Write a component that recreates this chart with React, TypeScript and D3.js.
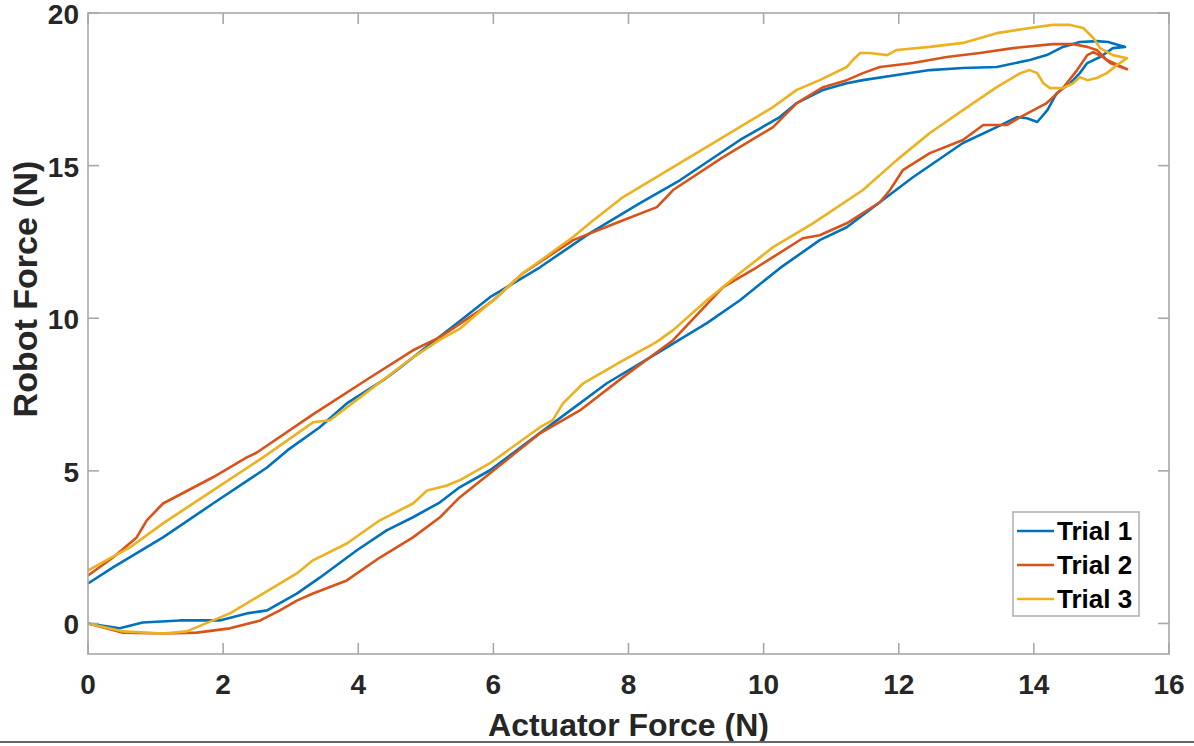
import * as d3 from "d3";

// Robot force vs actuator force, three hysteresis trials
// each trial: rising (lower) branch, then returning (upper) branch
const trial1: [number, number][] = [
  [0, 0], [0.47, -0.16], [0.81, 0.03], [1.36, 0.1], [1.95, 0.1], [2.35, 0.33], [2.65, 0.43],
  [3.09, 0.98], [3.43, 1.5], [3.98, 2.4], [4.42, 3.05], [4.81, 3.48], [5.21, 3.97], [5.5, 4.46],
  [5.95, 5.02], [6.84, 6.49], [7.68, 7.87], [8.42, 8.85], [9.16, 9.84], [9.65, 10.59], [10.24, 11.64],
  [10.83, 12.56], [11.23, 12.98], [12.21, 14.62], [12.95, 15.74], [13.45, 16.26], [13.75, 16.59],
  [13.9, 16.55], [14.05, 16.43], [14.2, 16.82], [14.34, 17.38], [14.54, 17.7], [14.68, 18.03],
  [14.79, 18.36], [14.98, 18.56], [15.17, 18.85], [15.35, 18.89],
  [15.1, 19.05], [14.93, 19.08], [14.68, 19.05], [14.43, 18.89], [14.19, 18.62], [13.94, 18.46],
  [13.45, 18.23], [12.95, 18.2], [12.46, 18.13], [11.97, 17.97], [11.47, 17.8], [11.23, 17.7],
  [10.88, 17.48], [10.49, 17.05], [10.24, 16.59], [9.65, 15.84], [8.76, 14.52], [8.17, 13.77],
  [7.43, 12.79], [6.69, 11.67], [5.95, 10.69], [5.5, 9.9], [5.06, 9.15], [4.57, 8.3], [4.37, 7.97],
  [3.83, 7.21], [3.43, 6.43], [2.95, 5.67], [2.65, 5.11], [1.85, 3.93], [1.11, 2.82], [0.37, 1.84],
  [0, 1.31],
];

const trial2: [number, number][] = [
  [0, 0], [0.52, -0.3], [1.11, -0.33], [1.61, -0.3], [2.1, -0.16], [2.55, 0.1], [2.84, 0.43],
  [3.09, 0.75], [3.33, 0.98], [3.83, 1.41], [4.32, 2.16], [4.81, 2.82], [5.21, 3.48], [5.5, 4.13],
  [5.95, 4.92], [6.69, 6.23], [7.28, 6.98], [7.92, 8.07], [8.66, 9.28], [9.4, 11.02], [9.9, 11.67],
  [10.58, 12.62], [10.83, 12.72], [11.23, 13.11], [11.72, 13.8], [11.87, 14.2], [12.06, 14.85],
  [12.46, 15.41], [12.95, 15.84], [13.25, 16.33], [13.6, 16.33], [13.8, 16.59], [14.19, 17.05],
  [14.43, 17.54], [14.64, 18.13], [14.79, 18.62], [14.88, 18.72], [15.02, 18.56], [15.13, 18.36],
  [15.38, 18.16],
  [15.08, 18.46], [14.93, 18.79], [14.79, 18.89], [14.58, 18.98], [14.28, 18.98], [13.69, 18.85],
  [13.2, 18.69], [12.71, 18.56], [12.21, 18.36], [11.72, 18.23], [11.47, 18.03], [11.23, 17.8],
  [10.88, 17.57], [10.49, 17.05], [10.14, 16.26], [9.4, 15.28], [8.66, 14.2], [8.42, 13.64],
  [7.92, 13.21], [7.18, 12.56], [6.44, 11.48], [6.0, 10.59], [5.8, 10.26], [5.21, 9.38],
  [4.81, 8.95], [4.17, 8.05], [3.33, 6.85], [2.5, 5.6], [2.35, 5.44], [1.85, 4.79], [1.11, 3.93],
  [0.87, 3.38], [0.72, 2.82], [0.37, 2.16], [0, 1.57],
];

const trial3: [number, number][] = [
  [0, 0], [0.52, -0.26], [1.11, -0.33], [1.46, -0.26], [1.85, 0.1], [2.1, 0.33], [2.59, 0.98],
  [3.09, 1.64], [3.33, 2.07], [3.83, 2.62], [4.32, 3.38], [4.81, 3.93], [5.02, 4.36], [5.31, 4.52],
  [5.5, 4.69], [5.95, 5.25], [6.69, 6.43], [6.88, 6.66], [7.03, 7.21], [7.33, 7.87], [7.92, 8.62],
  [8.4, 9.2], [8.66, 9.61], [9.16, 10.59], [9.65, 11.48], [10.14, 12.33], [10.73, 13.11],
  [11.47, 14.2], [11.97, 15.18], [12.46, 16.07], [12.95, 16.82], [13.45, 17.57], [13.8, 18.03],
  [13.94, 18.13], [14.05, 18.03], [14.14, 17.7], [14.24, 17.54], [14.43, 17.54], [14.58, 17.7],
  [14.68, 17.9], [14.79, 17.8], [14.93, 17.87], [15.08, 18.03], [15.23, 18.3], [15.38, 18.52],
  [15.17, 18.62], [14.98, 18.85], [14.88, 19.18], [14.73, 19.51], [14.54, 19.61], [14.28, 19.61],
  [13.94, 19.51], [13.45, 19.34], [12.95, 19.02], [12.46, 18.89], [11.97, 18.79], [11.83, 18.62],
  [11.57, 18.69], [11.43, 18.69], [11.32, 18.46], [11.23, 18.23], [10.83, 17.8], [10.49, 17.48],
  [10.14, 16.92], [9.4, 15.93], [8.66, 14.95], [7.92, 13.97], [7.48, 13.21], [7.18, 12.66],
  [6.44, 11.48], [6.05, 10.69], [5.7, 10.03], [5.5, 9.65], [5.21, 9.3], [4.81, 8.72], [4.32, 7.9],
  [3.58, 6.66], [3.33, 6.59], [2.74, 5.67], [2.59, 5.44], [1.85, 4.36], [1.11, 3.28], [0.62, 2.49],
  [0, 1.74],
];

const seriesNames = ["Trial 1", "Trial 2", "Trial 3"];
const seriesColors = ["#0072BD", "#D95319", "#EDB120"];
const xTicks = [0, 2, 4, 6, 8, 10, 12, 14, 16];
const yTicks = [0, 5, 10, 15, 20];

const W = 1194;
const H = 746;
const left = 88;
const right = 1169;
const top = 13;
const bottom = 654;
const axisColor = "#a8a8a8";
const textColor = "#262626";
const font = "'Liberation Sans', Arial, Helvetica, sans-serif";

export default function App() {
  const x = d3.scaleLinear().domain([0, 16]).range([left, right]);
  const y = d3.scaleLinear().domain([-1, 20]).range([bottom, top]);
  const line = d3
    .line<[number, number]>()
    .x((d) => x(d[0]))
    .y((d) => y(d[1]));
  const trials = [trial1, trial2, trial3];

  return (
    <svg
      width={W}
      height={H}
      style={{ position: "fixed", left: 0, top: 0, background: "#fff" }}
      fontFamily={font}
    >
      <rect x={0} y={0} width={W} height={H} fill="#fff" />
      {/* curves */}
      <g fill="none" strokeWidth={2.6} strokeLinejoin="round">
        {trials.map((t, i) => (
          <path key={i} d={line(t) ?? ""} stroke={seriesColors[i]} />
        ))}
      </g>
      {/* box + ticks */}
      <rect
        x={left}
        y={top}
        width={right - left}
        height={bottom - top}
        fill="none"
        stroke={axisColor}
        strokeWidth={1.6}
      />
      {xTicks.map((t) => (
        <g key={"x" + t}>
          <line x1={x(t)} x2={x(t)} y1={bottom} y2={bottom - 11} stroke={axisColor} strokeWidth={1.6} />
          <line x1={x(t)} x2={x(t)} y1={top} y2={top + 11} stroke={axisColor} strokeWidth={1.6} />
          <text
            x={x(t)}
            y={694}
            textAnchor="middle"
            fontSize={28}
            fontWeight="bold"
            fill={textColor}
          >
            {t}
          </text>
        </g>
      ))}
      {yTicks.map((t) => (
        <g key={"y" + t}>
          <line x1={left} x2={left + 11} y1={y(t)} y2={y(t)} stroke={axisColor} strokeWidth={1.6} />
          <line x1={right} x2={right - 11} y1={y(t)} y2={y(t)} stroke={axisColor} strokeWidth={1.6} />
          <text
            x={79}
            y={y(t) + 11}
            textAnchor="end"
            fontSize={28}
            fontWeight="bold"
            fill={textColor}
          >
            {t}
          </text>
        </g>
      ))}
      {/* axis labels */}
      <text
        x={(left + right) / 2}
        y={736}
        textAnchor="middle"
        fontSize={32}
        fontWeight="bold"
        fill={textColor}
      >
        Actuator Force (N)
      </text>
      <text
        transform={`translate(37, 289) rotate(-90)`}
        textAnchor="middle"
        fontSize={34}
        fontWeight="bold"
        fill={textColor}
      >
        Robot Force (N)
      </text>
      {/* legend */}
      <g>
        <rect x={1013} y={512} width={126} height={104} fill="#fff" stroke={axisColor} strokeWidth={1.4} />
        {seriesNames.map((n, i) => (
          <g key={n}>
            <line
              x1={1017}
              x2={1054}
              y1={531 + i * 34}
              y2={531 + i * 34}
              stroke={seriesColors[i]}
              strokeWidth={2.6}
            />
            <text x={1057} y={531 + i * 34 + 9} fontSize={26} fontWeight="bold" fill="#000">
              {n}
            </text>
          </g>
        ))}
      </g>
      {/* bottom edge line of the screenshot */}
      <line x1={0} x2={W} y1={742} y2={742} stroke="#666" strokeWidth={2} />
    </svg>
  );
}
